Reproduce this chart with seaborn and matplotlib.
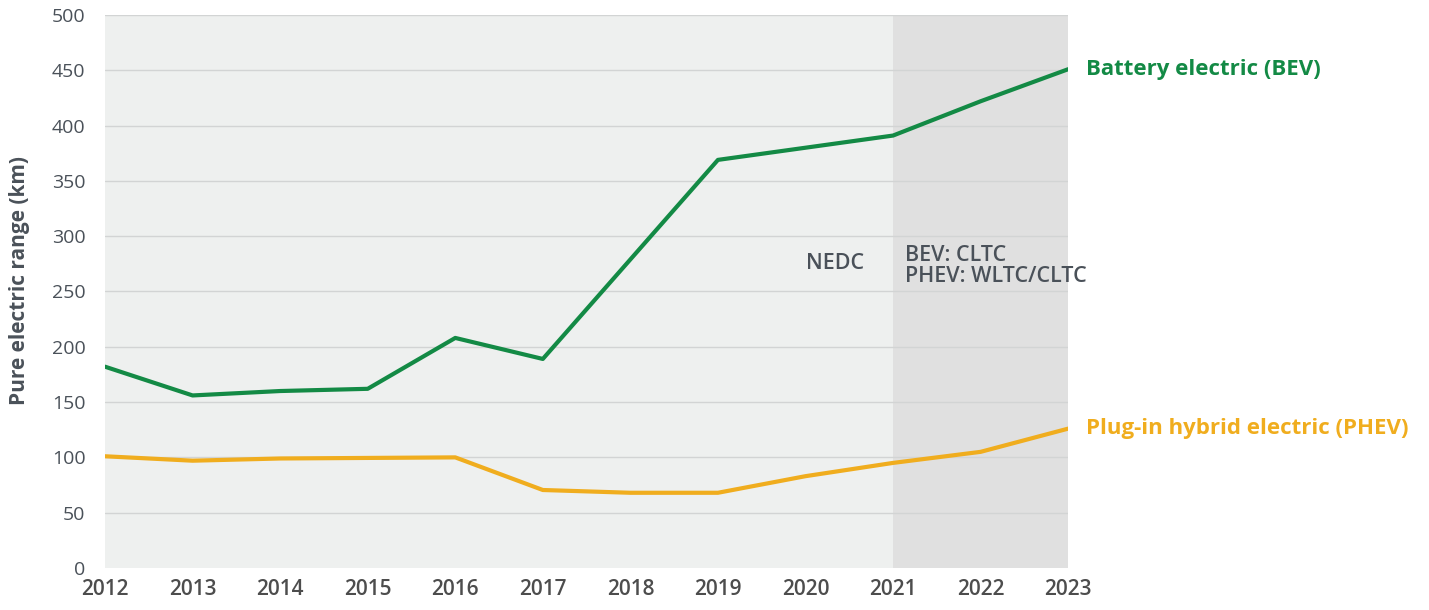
import pandas as pd
import seaborn as sns
import matplotlib.pyplot as plt

years = list(range(2012, 2024))
bev_range = [182, 156, 160, 162, 208, 189, 279, 369, 380, 391, 422, 451]
phev_range = [101, 97, 99, 99.5, 100, 70.5, 68, 68, 83, 95, 105, 126]

df = pd.DataFrame({'Year': years * 2,
                   'Range': bev_range + phev_range,
                   'Type': ['BEV'] * len(years) + ['PHEV'] * len(years)})

sns.set_style('white')
plt.rcParams['font.family'] = ['Open Sans', 'DejaVu Sans']

green = '#138a45'
orange = '#f0ad1e'
txt = '#4a5159'

fig = plt.figure(figsize=(14.29, 6.10), dpi=100)
ax = fig.add_axes([0.0735, 0.0689, 0.674, 0.9065])
ax.set_facecolor('#eef0ef')

ax.axvspan(2021, 2023, color='#e0e0e0', zorder=0, lw=0)
for y in range(50, 501, 50):
    ax.axhline(y, color='#d2d4d4', lw=1, zorder=1)

sns.lineplot(data=df, x='Year', y='Range', hue='Type',
             palette={'BEV': green, 'PHEV': orange},
             lw=3, ax=ax, legend=False, zorder=3)

ax.set_xlim(2012, 2023)
ax.set_ylim(0, 500)
ax.set_xticks(years)
ax.set_yticks(range(0, 501, 50))
ax.tick_params(axis='y', labelsize=14, colors=txt, length=0, pad=14)
ax.tick_params(axis='x', labelsize=15, colors='#4d4d4d', length=0, pad=8)
for lab in ax.get_xticklabels():
    lab.set_fontweight('semibold')
for s in ax.spines.values():
    s.set_visible(False)

ax.set_xlabel('')
ax.set_ylabel('Pure electric range (km)', fontsize=15, fontweight='bold',
              color=txt)
ax.yaxis.set_label_coords(-0.078, 0.52)

ax.text(2023.2, bev_range[-1], 'Battery electric (BEV)', color=green,
        fontsize=16, fontweight='bold', va='center', clip_on=False)
ax.text(2023.2, phev_range[-1], 'Plug-in hybrid electric (PHEV)', color=orange,
        fontsize=16, fontweight='bold', va='center', clip_on=False)
ax.text(2020.0, 275, 'NEDC', color=txt, fontsize=15.5, fontweight='semibold', va='center')
ax.text(2021.14, 273, 'BEV: CLTC\nPHEV: WLTC/CLTC', color=txt, fontsize=15.5,
        fontweight='semibold', va='center', linespacing=1.05)

plt.savefig('out.png', dpi=100)
